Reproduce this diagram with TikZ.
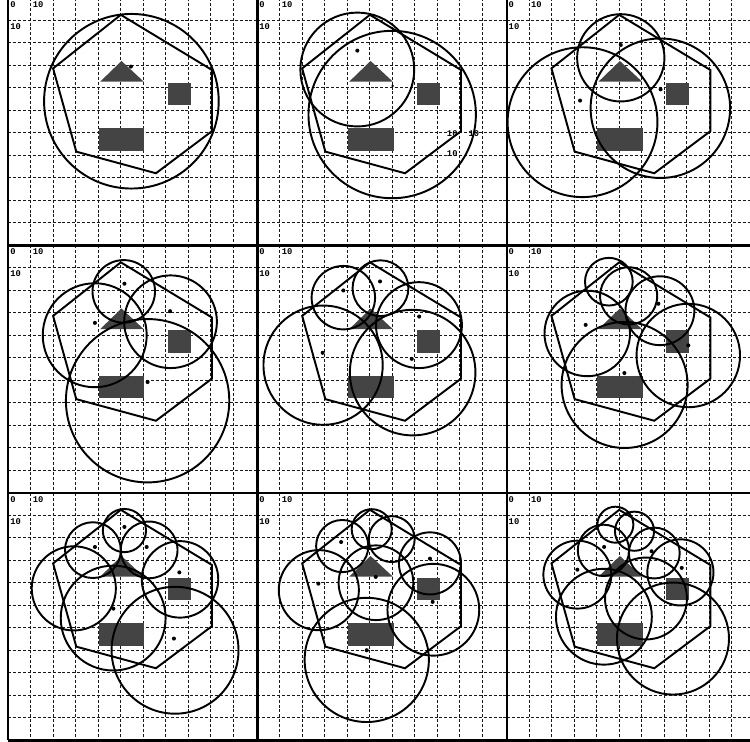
\documentclass[tikz,border=0pt]{standalone}
\usepackage{fontspec}
\newfontfamily\lblfont{Liberation Mono}
\definecolor{shapegray}{RGB}{68,68,68}
\tikzset{
  gridline/.style={line width=0.55pt, dash pattern=on 1.7pt off 1.1pt, black!90},
  frameline/.style={line width=1.3pt},
  shapefill/.style={fill=shapegray},
  hexline/.style={line width=1.1pt, line join=miter},
  ring/.style={line width=1.1pt},
  centredot/.style={fill=black},
  lbl/.style={font=\lblfont\bfseries\fontsize{5}{6}\selectfont, inner sep=0pt, anchor=base west},
  panelbase/.pic={
    \foreach \g in {10,20,...,100} {
      \draw[gridline] (\g,0) -- (\g,110);
      \draw[gridline] (0,\g) -- (110.7,\g);
    }
    \fill[shapefill] (40.2,57.9) rectangle (60.5,67.9);
    \fill[shapefill] (71.0,37.7) rectangle (81.0,47.7);
    \fill[shapefill] (50.3,28.0) -- (40.8,37.2) -- (60.2,37.2) -- cycle;
    \draw[hexline] (50.0,7.5) -- (90.5,32.0) -- (90.5,59.2) -- (65.6,77.9)
      -- (30.2,68.3) -- (19.9,31.3) -- cycle;
    \node[lbl] (-o) at (0.75,4.1) {0};
    \node[lbl] (-x) at (10.7,4.1) {10};
    \node[lbl] (-y) at (0.75,13.9) {10};
  }
}

\begin{document}
\begin{tikzpicture}[x=0.045cm, y=-0.045cm]
\useasboundingbox (0,0) rectangle (333.333,329.778);
\clip (0,0) rectangle (333.333,329.778);
% top row
\begin{scope}[shift={(3.7,-0.9)}]
\pic (p1) at (0,0) {panelbase};
\draw[ring] (54.7,45.9) circle (38.8);
\fill[centredot] (54.5,30.5) circle (0.9);
\end{scope}
\begin{scope}[shift={(114.4,-0.9)}]
\pic (p2) at (0,0) {panelbase};
\node[lbl] (p2-xa) at (84.1,61.6) {10};
\node[lbl] (p2-xb) at (93.7,61.6) {10};
\node[lbl] (p2-ya) at (84.1,70.5) {10};
\draw[ring] (44.4,31.8) circle (25.3);
\draw[ring] (59.9,51.8) circle (37.2);
\fill[centredot] (44.4,23.4) circle (0.9);
\fill[centredot] (60.1,39.1) circle (0.6);
\end{scope}
\begin{scope}[shift={(225.2,-0.9)}]
\pic (p3) at (0,0) {panelbase};
\draw[ring] (50.7,26.6) circle (19.4);
\draw[ring] (33.7,55.2) circle (33.3);
\draw[ring] (68.3,49.0) circle (31.0);
\fill[centredot] (50.7,20.9) circle (0.9);
\fill[centredot] (32.6,45.6) circle (0.9);
\fill[centredot] (68.4,40.6) circle (0.9);
\end{scope}
% middle row
\begin{scope}[shift={(3.7,109.1)}]
\pic (p4) at (0,0) {panelbase};
\draw[ring] (51.3,20.4) circle (13.9);
\draw[ring] (38.4,39.9) circle (23.1);
\draw[ring] (72.1,33.9) circle (20.6);
\draw[ring] (61.9,69.0) circle (36.3);
\fill[centredot] (51.6,17.0) circle (0.9);
\fill[centredot] (38.5,34.4) circle (0.9);
\fill[centredot] (71.9,29.2) circle (0.9);
\fill[centredot] (61.9,60.7) circle (0.9);
\end{scope}
\begin{scope}[shift={(114.4,109.1)}]
\pic (p5) at (0,0) {panelbase};
\draw[ring] (38.2,23.2) circle (14.1);
\draw[ring] (54.7,19.0) circle (12.4);
\draw[ring] (71.8,35.4) circle (19.1);
\draw[ring] (29.2,53.2) circle (26.5);
\draw[ring] (69.0,56.5) circle (27.9);
\fill[centredot] (38.2,20.0) circle (0.9);
\fill[centredot] (54.5,16.0) circle (0.9);
\fill[centredot] (71.9,31.6) circle (0.9);
\fill[centredot] (29.0,47.7) circle (0.9);
\fill[centredot] (68.6,50.4) circle (0.9);
\end{scope}
\begin{scope}[shift={(225.2,109.1)}]
\pic (p6) at (0,0) {panelbase};
\draw[ring] (45.4,16.1) circle (10.6);
\draw[ring] (54.2,22.4) circle (12.7);
\draw[ring] (68.1,29.0) circle (15.3);
\draw[ring] (35.8,39.1) circle (19.0);
\draw[ring] (80.7,48.9) circle (23.0);
\draw[ring] (52.4,62.0) circle (28.0);
\fill[centredot] (67.4,25.9) circle (0.9);
\fill[centredot] (35.1,35.3) circle (0.9);
\fill[centredot] (80.7,44.4) circle (0.9);
\fill[centredot] (52.3,56.7) circle (0.9);
\end{scope}
% bottom row
\begin{scope}[shift={(3.7,219.1)}]
\pic (p7) at (0,0) {panelbase};
\draw[ring] (51.6,16.7) circle (9.6);
\draw[ring] (37.6,25.4) circle (12.4);
\draw[ring] (62.6,25.3) circle (12.6);
\draw[ring] (29.1,42.4) circle (18.7);
\draw[ring] (46.6,55.6) circle (23.3);
\draw[ring] (76.3,38.4) circle (17.0);
\draw[ring] (74.1,69.9) circle (28.2);
\fill[centredot] (51.6,15.1) circle (0.9);
\fill[centredot] (38.5,24.0) circle (0.9);
\fill[centredot] (61.5,24.0) circle (0.9);
\fill[centredot] (46.7,51.4) circle (0.9);
\fill[centredot] (76.0,35.3) circle (0.9);
\fill[centredot] (73.6,64.7) circle (0.9);
\end{scope}
\begin{scope}[shift={(114.4,219.1)}]
\pic (p8) at (0,0) {panelbase};
\draw[ring] (50.8,16.1) circle (8.9);
\draw[ring] (59.7,20.5) circle (10.2);
\draw[ring] (37.7,23.6) circle (11.6);
\draw[ring] (52.7,39.9) circle (16.6);
\draw[ring] (76.7,31.3) circle (13.8);
\draw[ring] (27.3,43.2) circle (17.8);
\draw[ring] (78.2,51.9) circle (20.4);
\draw[ring] (48.6,74.2) circle (27.6);
\fill[centredot] (37.2,21.8) circle (0.9);
\fill[centredot] (52.6,37.3) circle (0.9);
\fill[centredot] (76.7,29.2) circle (0.9);
\fill[centredot] (27.1,40.3) circle (0.9);
\fill[centredot] (77.9,48.4) circle (0.9);
\fill[centredot] (48.6,69.9) circle (0.9);
\end{scope}
\begin{scope}[shift={(225.2,219.1)}]
\pic (p9) at (0,0) {panelbase};
\draw[ring] (48.3,14.1) circle (8.0);
\draw[ring] (56.8,17.0) circle (8.7);
\draw[ring] (43.0,25.5) circle (11.4);
\draw[ring] (65.6,26.7) circle (11.3);
\draw[ring] (31.4,36.3) circle (15.1);
\draw[ring] (77.2,35.3) circle (14.7);
\draw[ring] (61.9,46.9) circle (18.2);
\draw[ring] (43.2,55.0) circle (21.3);
\draw[ring] (73.9,64.7) circle (24.9);
\fill[centredot] (43.3,24.0) circle (0.9);
\fill[centredot] (64.4,25.9) circle (0.9);
\fill[centredot] (31.4,34.1) circle (0.9);
\fill[centredot] (77.8,33.3) circle (0.9);
\end{scope}
% panel frames
\draw[frameline] (3.7,-0.9) -- (3.7,329.1);
\draw[frameline] (114.4,-0.9) -- (114.4,329.1);
\draw[frameline] (225.2,-0.9) -- (225.2,329.1);
\draw[frameline] (3.7,109.1) -- (336,109.1);
\draw[frameline] (3.7,219.1) -- (336,219.1);
\draw[frameline] (3.7,329.1) -- (336,329.1);
\end{tikzpicture}
\end{document}
